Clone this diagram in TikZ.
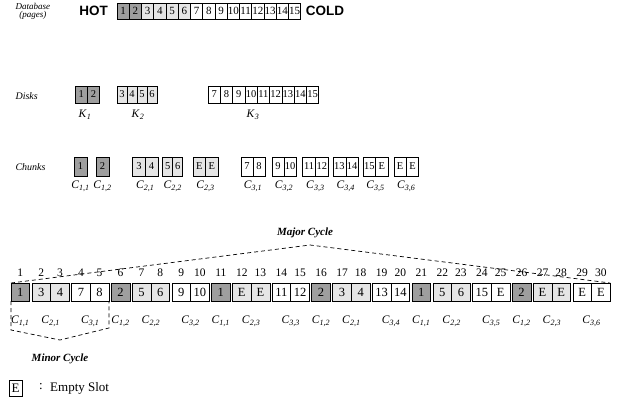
\documentclass[tikz,border=0pt]{standalone}
\usepackage{fontspec}
\setmainfont{Liberation Serif}
\setsansfont{Liberation Sans}
\usepackage{xcolor}
\usepackage{tikz}
\usetikzlibrary{calc, positioning}

\definecolor{hotfill}{gray}{0.62}
\definecolor{warmfill}{gray}{0.9}
\definecolor{coldfill}{gray}{1}

\newcommand{\cname}[2]{\textit{C}\textsubscript{\textit{#1,#2}}}
\newcommand{\kname}[1]{\textit{K}\textsubscript{\textit{#1}}}

\begin{document}
\begin{tikzpicture}[x=1pt, y=-1pt,
    cell/.style={draw, line width=0.6pt, inner sep=0pt, outer sep=0pt, anchor=north west},
    rowlabel/.style={font=\fontsize{10}{10}\selectfont\itshape, anchor=west},
    cyclelabel/.style={font=\fontsize{11}{11}\selectfont\bfseries\itshape},
    cycleline/.style={dashed, dash pattern=on 4pt off 3pt, line width=0.7pt},
    endlabel/.style={font=\fontsize{13.5}{13.5}\selectfont\sffamily\bfseries, inner sep=0pt},
    cnamelabel/.style={font=\fontsize{11.5}{11.5}\selectfont, inner sep=0pt}]
                \useasboundingbox (0,0) rectangle (620,410);

                % 1. Database (pages), HOT -> COLD
                \node[rowlabel, align=center, font=\fontsize{9}{8}\selectfont\itshape] (dblabel) at (12,11) {Database\\(pages)};
                \foreach \i/\c in {1/hotfill,2/hotfill,3/warmfill,4/warmfill,5/warmfill,6/warmfill,
                        7/coldfill,8/coldfill,9/coldfill,10/coldfill,11/coldfill,12/coldfill,13/coldfill,14/coldfill,15/coldfill} {
                    \node[cell, fill=\c, minimum width=12.25pt, minimum height=16pt,
                        font=\fontsize{11}{11}\selectfont] (db\i) at ({117+(\i-1)*12.25}, 3) {\i};
                }
                \node[endlabel, left=9pt of db1] (hot) {HOT};
                \node[endlabel, right=5pt of db15] (cold) {COLD};

                % 2. Disks K1, K2, K3
                \node[rowlabel] (disklabel) at (12,96) {Disks};
                \foreach \i in {1,2} {
                    \node[cell, fill=hotfill, minimum width=12.3pt, minimum height=17pt,
                        font=\fontsize{10.5}{10.5}\selectfont] (dk\i) at ({75+(\i-1)*12.3}, 86) {\i};
                }
                \foreach \i in {3,...,6} {
                    \node[cell, fill=warmfill, minimum width=10pt, minimum height=17pt,
                        font=\fontsize{10.5}{10.5}\selectfont] (dk\i) at ({117+(\i-3)*10}, 86) {\i};
                }
                \foreach \i in {7,...,15} {
                    \node[cell, fill=coldfill, minimum width=12.3pt, minimum height=17pt,
                        font=\fontsize{10.5}{10.5}\selectfont] (dk\i) at ({208+(\i-7)*12.3}, 86) {\i};
                }
                \node[cnamelabel] (k1) at (85,115) {\kname{1}};
                \node[cnamelabel] (k2) at (138,115) {\kname{2}};
                \node[cnamelabel] (k3) at (253,115) {\kname{3}};

                % 3. Chunks
                \node[rowlabel] (chunklabel) at (12,167) {Chunks};
                \foreach \p/\x in {1/74,2/96} {
                    \node[cell, fill=hotfill, minimum width=13pt, minimum height=19pt,
                        font=\fontsize{10.5}{10.5}\selectfont] (c1\p) at (\x,157) {\p};
                    \node[cnamelabel] (c1\p name) at ($(c1\p.south)+(0,10)$) {\cname{1}{\p}};
                }
                \foreach \i/\j/\x/\w/\c/\a/\b in {2/1/132.7/12.6/warmfill/3/4, 2/2/162.7/10/warmfill/5/6,
                        2/3/193/12.5/warmfill/E/E, 3/1/241/12/coldfill/7/8, 3/2/272/12/coldfill/9/10,
                        3/3/302.7/12.7/coldfill/11/12, 3/4/333/12.8/coldfill/13/14,
                        3/5/363/12.5/coldfill/15/E, 3/6/394/12.3/coldfill/E/E} {
                    \node[cell, fill=\c, minimum width=\w pt, minimum height=19pt,
                        font=\fontsize{10.5}{10.5}\selectfont] (c\i\j a) at (\x,157) {\a};
                    \node[cell, fill=\c, minimum width=\w pt, minimum height=19pt,
                        font=\fontsize{10.5}{10.5}\selectfont] (c\i\j b) at (\x+\w,157) {\b};
                    \node[cnamelabel] (c\i\j name) at ($(c\i\j a.south east)+(0,10)$) {\cname{\i}{\j}};
                }

                % 4. Broadcast slots 1..30 (slot/gaps before/page/fill)
                \foreach \s/\g/\t/\c in {1/0/1/hotfill, 2/1/3/warmfill, 3/1/4/warmfill, 4/2/7/coldfill, 5/2/8/coldfill,
                        6/3/2/hotfill, 7/4/5/warmfill, 8/4/6/warmfill, 9/5/9/coldfill, 10/5/10/coldfill,
                        11/6/1/hotfill, 12/7/E/warmfill, 13/7/E/warmfill, 14/8/11/coldfill, 15/8/12/coldfill,
                        16/9/2/hotfill, 17/10/3/warmfill, 18/10/4/warmfill, 19/11/13/coldfill, 20/11/14/coldfill,
                        21/12/1/hotfill, 22/13/5/warmfill, 23/13/6/warmfill, 24/14/15/coldfill, 25/14/E/coldfill,
                        26/15/2/hotfill, 27/16/E/warmfill, 28/16/E/warmfill, 29/17/E/coldfill, 30/17/E/coldfill} {
                    \node[cell, fill=\c, minimum width=18.67pt, minimum height=18pt,
                        font=\fontsize{12.5}{12.5}\selectfont] (s\s) at ({11+(\s-1)*18.67+\g*2.3}, 283) {\t};
                    \node[font=\fontsize{11.5}{11.5}\selectfont, inner sep=0pt] (n\s) at ($(s\s.north)+(0,-10)$) {\s};
                }
                \foreach \a/\b/\i/\j in {1/1/1/1, 2/3/2/1, 4/5/3/1, 6/6/1/2, 7/8/2/2, 9/10/3/2,
                        11/11/1/1, 12/13/2/3, 14/15/3/3, 16/16/1/2, 17/18/2/1, 19/20/3/4,
                        21/21/1/1, 22/23/2/2, 24/25/3/5, 26/26/1/2, 27/28/2/3, 29/30/3/6} {
                    \node[cnamelabel] (g\a) at ($(s\a.south west)!0.5!(s\b.south east)+(0,20)$) {\cname{\i}{\j}};
                }

                % 5. Major and minor cycle
                \coordinate (majtop) at (310,245);
                \draw[cycleline] (s1.north west) -- (majtop) -- (s30.north east);
                \node[cyclelabel] (major) at (305,233) {Major Cycle};
                \coordinate (minbot) at (60,340);
                \draw[cycleline] (s1.south west) -- ++(0,29) -- (minbot)
                    -- ($(s5.south east)+(0,27)$) -- (s5.south east);
                \node[cyclelabel] (minor) at (60,359) {Minor Cycle};

                % 6. Legend
                \node[cell, minimum width=13pt, minimum height=16pt, font=\fontsize{13}{13}\selectfont] (legE) at (9,380) {E};
                \node[font=\fontsize{13}{13}\selectfont, inner sep=0pt] (legcolon) at (41,387) {:};
                \node[font=\fontsize{13}{13}\selectfont, inner sep=0pt, anchor=west] (legtext) at (50,388) {Empty Slot};
            \end{tikzpicture}
\end{document}
